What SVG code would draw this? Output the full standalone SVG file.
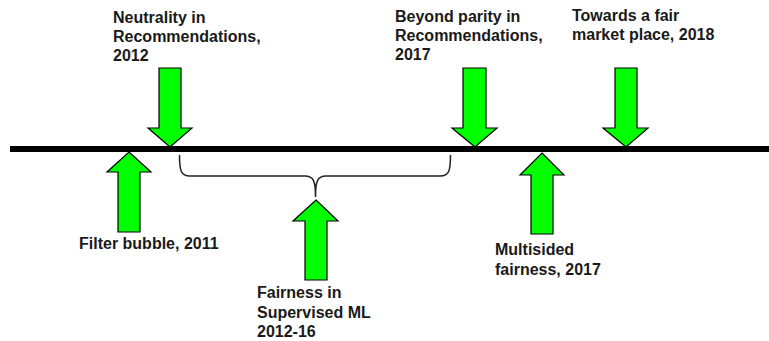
<svg xmlns="http://www.w3.org/2000/svg" width="769" height="341" viewBox="0 0 769 341">
<style>
.arrow{fill:#00ff00;stroke:#000;stroke-width:1.2;stroke-linejoin:miter}
.lbl{font-family:"Liberation Sans",Arial,sans-serif;font-weight:bold;font-size:16px;fill:#1a1a1a}
.brace{fill:none;stroke:#222;stroke-width:1.5}
</style>
<rect width="769" height="341" fill="#fff"/>
<g id="connectors">
<line x1="10" y1="149" x2="769" y2="149" stroke="#000" stroke-width="6"/>
<path class="brace" d="M179.5,155 C179.5,171 181,176 190,176 L305,176 C313,176 315.5,180 315.5,197 C315.5,180 318,176 326,176 L440,176 C449,176 450.5,171 450.5,155"/>
</g>
<g id="neutrality">
<polygon class="arrow" points="159,68 181,68 181,128 192,128 170,147 148,128 159,128"/>
<text class="lbl" x="113" y="23">Neutrality in</text>
<text class="lbl" x="113" y="42">Recommendations,</text>
<text class="lbl" x="113" y="61">2012</text>
</g>
<g id="filter-bubble">
<polygon class="arrow" points="129,152 151,172 140,172 140,232 118,232 118,172 107,172"/>
<text class="lbl" x="79" y="249">Filter bubble, 2011</text>
</g>
<g id="fairness-ml">
<polygon class="arrow" points="316,200 338,221 327,221 327,280 305,280 305,221 293,221"/>
<text class="lbl" x="257" y="298">Fairness in</text>
<text class="lbl" x="257" y="318">Supervised ML</text>
<text class="lbl" x="257" y="337">2012-16</text>
</g>
<g id="beyond-parity">
<polygon class="arrow" points="463,68 486,68 486,128 497,128 475,147 452,128 463,128"/>
<text class="lbl" x="395" y="22">Beyond parity in</text>
<text class="lbl" x="395" y="41">Recommendations,</text>
<text class="lbl" x="395" y="60">2017</text>
</g>
<g id="multisided">
<polygon class="arrow" points="542,153 564,175 553,175 553,234 531,234 531,175 520,175"/>
<text class="lbl" x="495" y="255">Multisided</text>
<text class="lbl" x="495" y="275">fairness, 2017</text>
</g>
<g id="fair-market">
<polygon class="arrow" points="615,68 637,68 637,128 648,128 626,147 603,128 615,128"/>
<text class="lbl" x="572" y="21">Towards a fair</text>
<text class="lbl" x="572" y="40">market place, 2018</text>
</g>
</svg>
